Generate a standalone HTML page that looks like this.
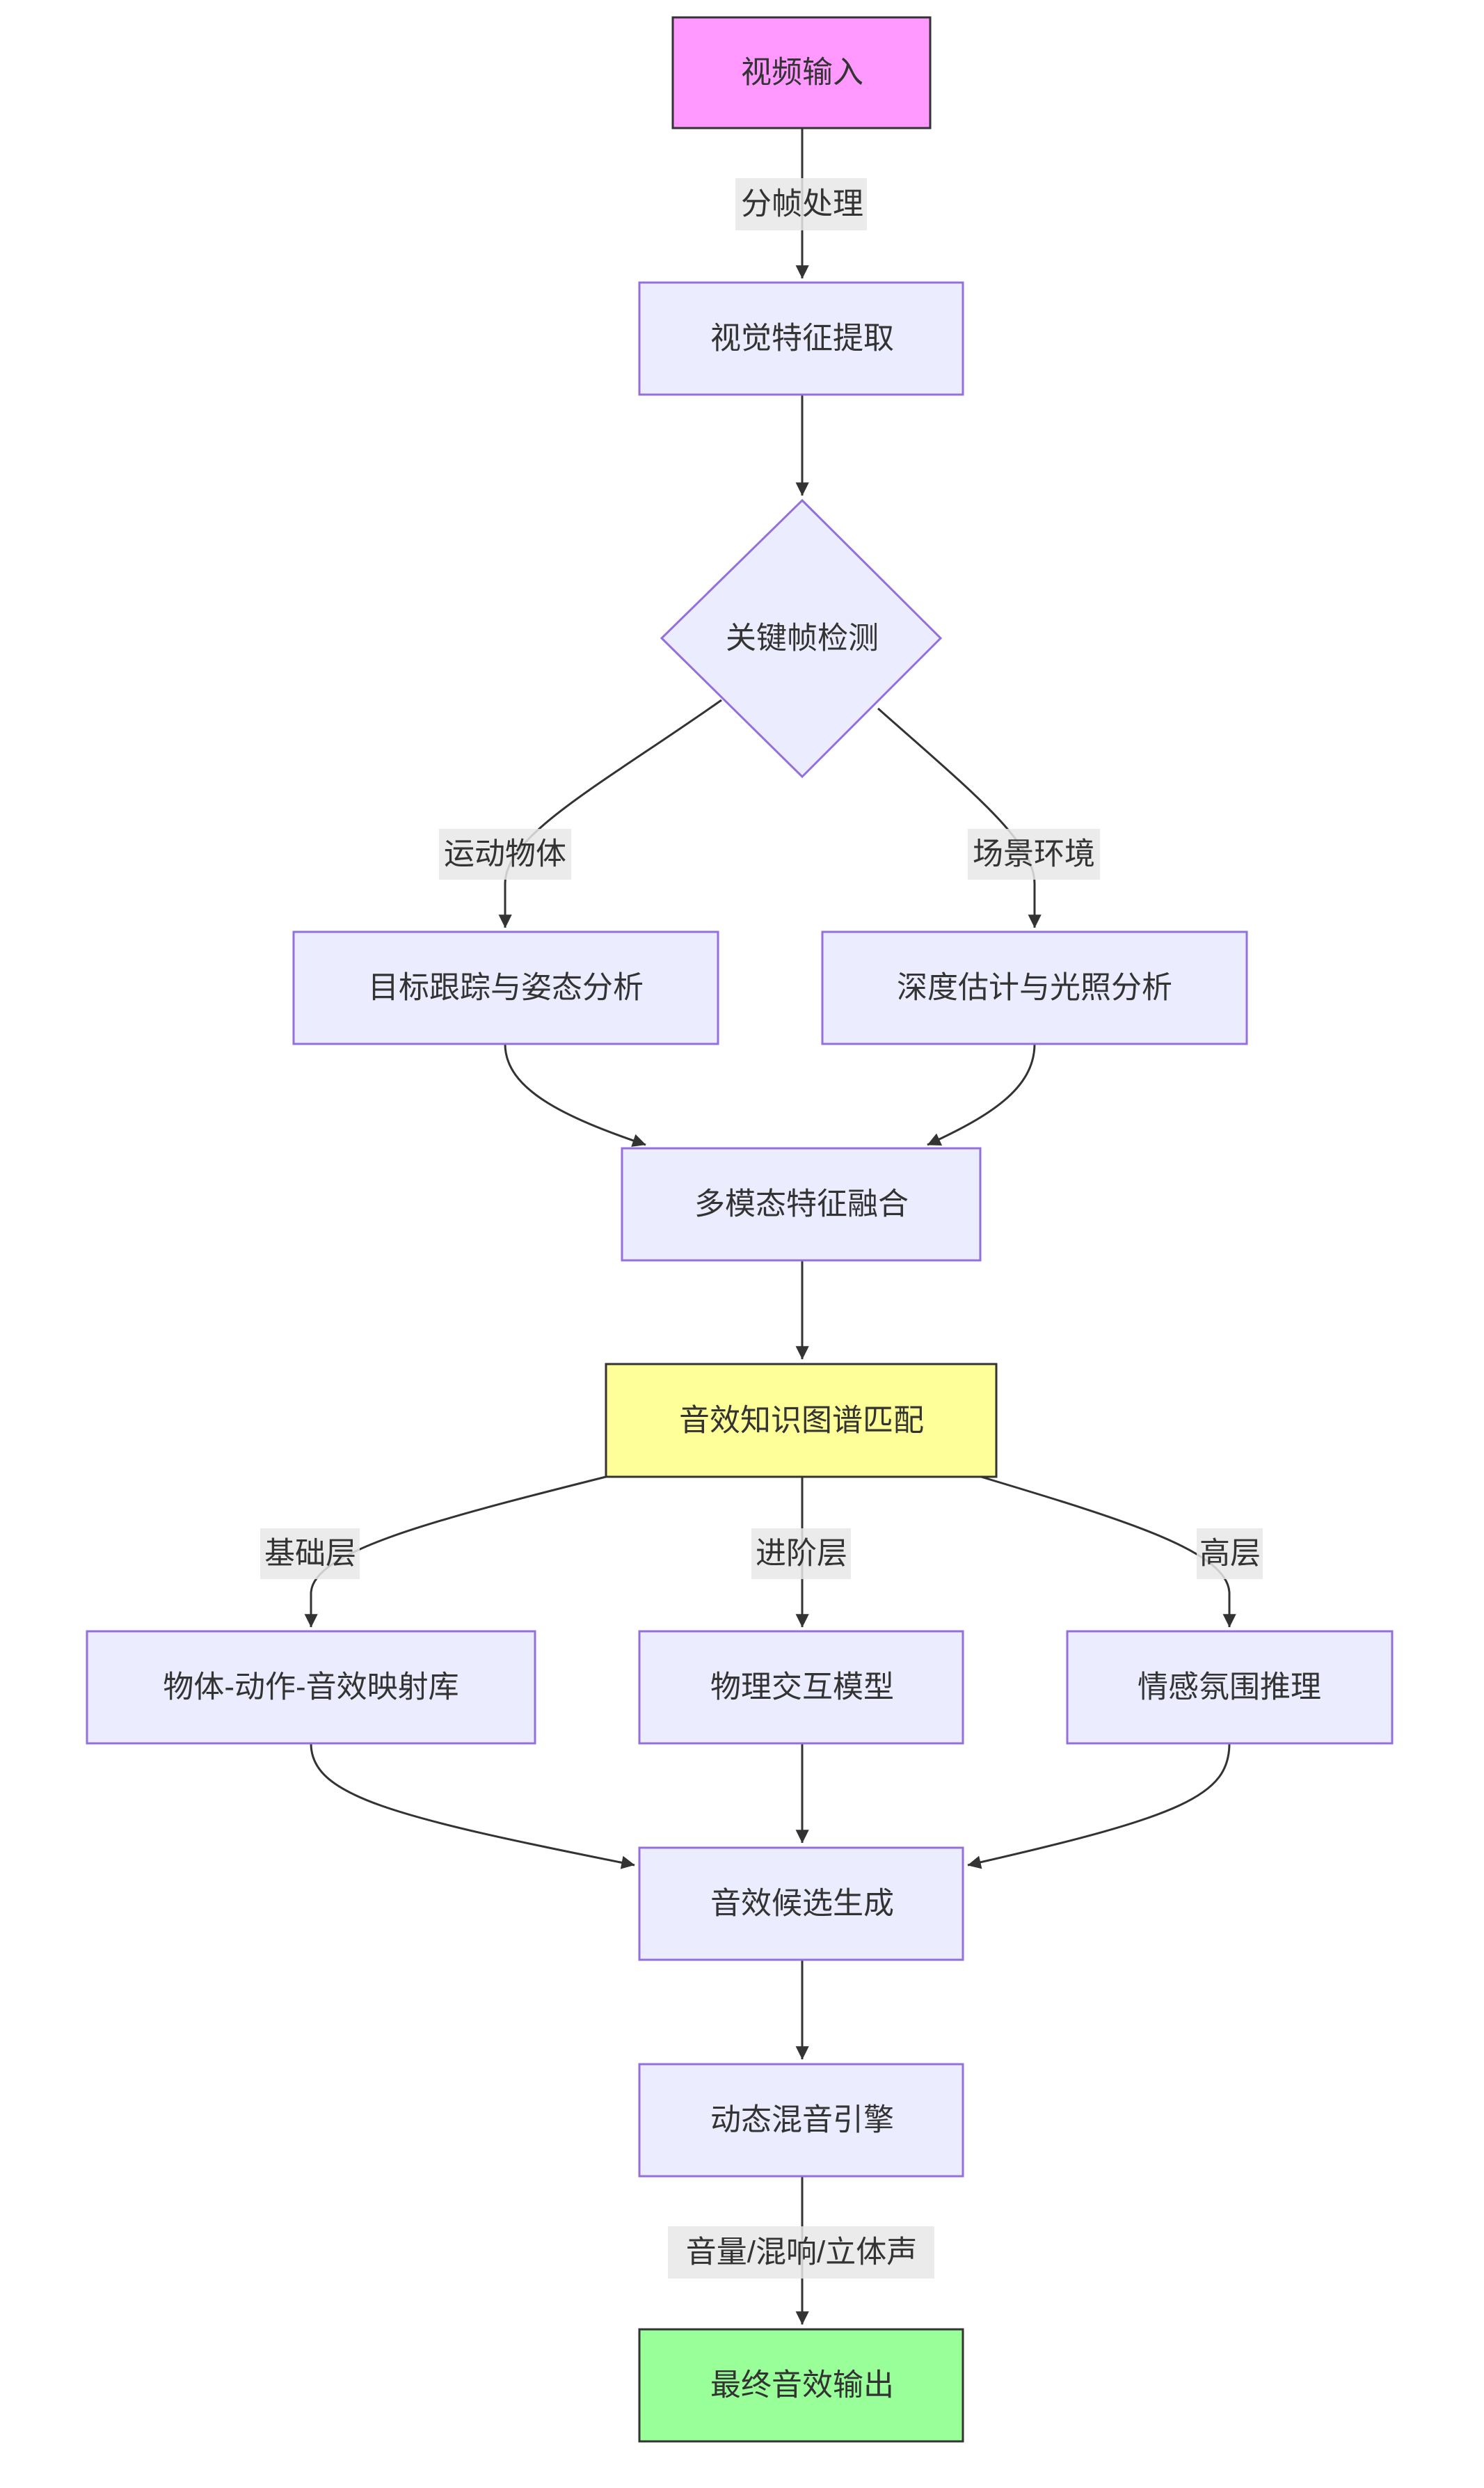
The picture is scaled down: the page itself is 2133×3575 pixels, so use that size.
<!DOCTYPE html>
<html><head><meta charset="utf-8"><style>
body{margin:0;background:#fff;}
svg text{font-family:"Liberation Sans","Noto Sans CJK SC",sans-serif;font-size:44px;fill:#333;text-anchor:middle;dominant-baseline:central;}
.n{fill:#ECECFF;stroke:#9370DB;stroke-width:3;}
.e{fill:none;stroke:#333;stroke-width:3;}
.lb{fill:rgba(232,232,232,0.85);}
</style></head><body>
<svg width="2133" height="3570" viewBox="0 0 2133 3570" xmlns="http://www.w3.org/2000/svg">
<defs><marker id="a" viewBox="0 0 10 10" refX="9" refY="5" markerWidth="8" markerHeight="8" markerUnits="userSpaceOnUse" orient="auto" style="overflow:visible"><path d="M0,0 L10,5 L0,10 z" fill="#333" transform="scale(2.4) translate(-6,-3)"/></marker></defs>
<g class="e">
<path d="M1153,184 L1153,400" marker-end="url(#a)"/>
<path d="M1153,567 C1153,640 1153,680 1153,712" marker-end="url(#a)"/>
<path d="M1037,1006 C860,1130 726,1200 726,1270 L726,1333" marker-end="url(#a)"/>
<path d="M1262,1018 C1400,1140 1487,1210 1487,1270 L1487,1333" marker-end="url(#a)"/>
<path d="M726,1500 C726,1565 810,1605 928,1645" marker-end="url(#a)"/>
<path d="M1487,1500 C1487,1565 1420,1605 1333,1645" marker-end="url(#a)"/>
<path d="M1153,1811 L1153,1953" marker-end="url(#a)"/>
<path d="M871,2122 C620,2185 447,2230 447,2290 L447,2338" marker-end="url(#a)"/>
<path d="M1153,2122 L1153,2338" marker-end="url(#a)"/>
<path d="M1410,2122 C1620,2185 1767,2230 1767,2290 L1767,2338" marker-end="url(#a)"/>
<path d="M447,2505 C447,2580 560,2610 912,2680" marker-end="url(#a)"/>
<path d="M1153,2505 L1153,2648" marker-end="url(#a)"/>
<path d="M1767,2505 C1767,2580 1700,2610 1391,2680" marker-end="url(#a)"/>
<path d="M1153,2816 L1153,2959" marker-end="url(#a)"/>
<path d="M1153,3127 L1153,3340" marker-end="url(#a)"/>
</g>
<rect x="967" y="25" width="370" height="159" fill="#ff99ff" stroke="#333" stroke-width="3"/>
<text x="1153" y="104">视频输入</text>
<rect class="lb" x="1057" y="256" width="189" height="75"/><text x="1153" y="293">分帧处理</text>
<rect class="n" x="919" y="406" width="465" height="161"/><text x="1153" y="486">视觉特征提取</text>
<polygon class="n" points="1153,719 1352,917 1153,1116 951,917"/><text x="1153" y="917">关键帧检测</text>
<rect class="lb" x="631" y="1191" width="190" height="73"/><text x="726" y="1227">运动物体</text>
<rect class="lb" x="1391" y="1191" width="190" height="73"/><text x="1486" y="1227">场景环境</text>
<rect class="n" x="422" y="1339" width="610" height="161"/><text x="727" y="1419">目标跟踪与姿态分析</text>
<rect class="n" x="1182" y="1339" width="610" height="161"/><text x="1487" y="1419">深度估计与光照分析</text>
<rect class="n" x="894" y="1650" width="515" height="161"/><text x="1152" y="1730">多模态特征融合</text>
<rect x="871" y="1960" width="561" height="162" fill="#ffff99" stroke="#333" stroke-width="3"/><text x="1152" y="2041">音效知识图谱匹配</text>
<rect class="lb" x="374" y="2196" width="143" height="73"/><text x="446" y="2232">基础层</text>
<rect class="lb" x="1080" y="2196" width="143" height="73"/><text x="1152" y="2232">进阶层</text>
<rect class="lb" x="1720" y="2196" width="95" height="73"/><text x="1768" y="2232">高层</text>
<rect class="n" x="125" y="2344" width="644" height="161"/><text x="447" y="2424">物体-动作-音效映射库</text>
<rect class="n" x="919" y="2344" width="465" height="161"/><text x="1153" y="2424">物理交互模型</text>
<rect class="n" x="1534" y="2344" width="467" height="161"/><text x="1767" y="2424">情感氛围推理</text>
<rect class="n" x="919" y="2655" width="465" height="161"/><text x="1153" y="2735">音效候选生成</text>
<rect class="n" x="919" y="2966" width="465" height="161"/><text x="1153" y="3046">动态混音引擎</text>
<rect class="lb" x="960" y="3199" width="383" height="75"/><text x="1152" y="3236">音量/混响/立体声</text>
<rect x="919" y="3347" width="465" height="161" fill="#99ff99" stroke="#333" stroke-width="3"/><text x="1153" y="3427">最终音效输出</text>
</svg>
</body></html>
